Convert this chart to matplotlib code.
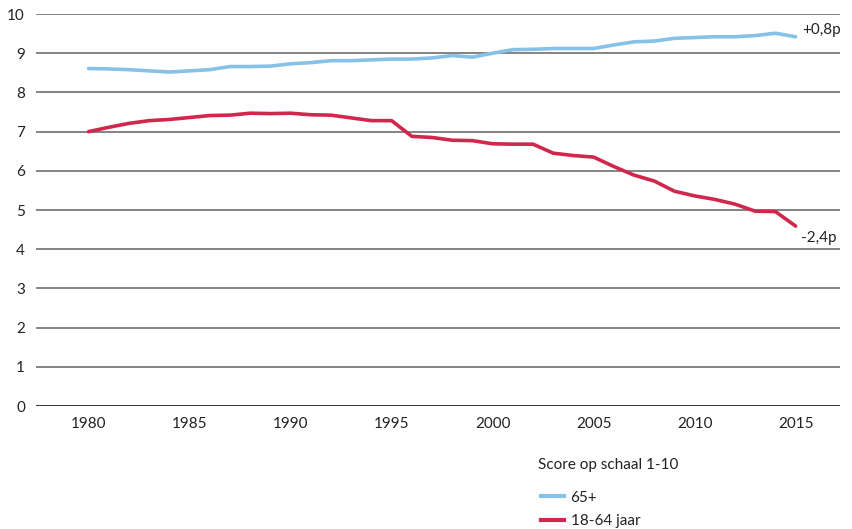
import matplotlib
matplotlib.use("Agg")
import matplotlib.pyplot as plt
from matplotlib.lines import Line2D

# jaren en scores (schaal 1-10)
years = list(range(1980, 2016))
old = [8.61, 8.60, 8.58, 8.55, 8.52, 8.55, 8.58, 8.66, 8.66, 8.67,
       8.73, 8.76, 8.81, 8.81, 8.83, 8.85, 8.85, 8.88, 8.94, 8.90,
       9.00, 9.09, 9.10, 9.12, 9.12, 9.12, 9.21, 9.29, 9.31, 9.38,
       9.40, 9.42, 9.42, 9.45, 9.51, 9.42]
young = [7.00, 7.11, 7.21, 7.28, 7.31, 7.36, 7.41, 7.42, 7.47, 7.46,
         7.47, 7.43, 7.42, 7.35, 7.28, 7.28, 6.88, 6.85, 6.78, 6.77,
         6.69, 6.68, 6.68, 6.45, 6.39, 6.35, 6.11, 5.89, 5.74, 5.48,
         5.36, 5.27, 5.15, 4.97, 4.96, 4.59]
xticks = [1980, 1985, 1990, 1995, 2000, 2005, 2010, 2015]
yticks = list(range(0, 11))

blue = '#86c1e8'
red = '#d0284d'
txt = '#222222'

plt.rcParams['font.family'] = ['Lato', 'DejaVu Sans']

fig = plt.figure(figsize=(8.52, 5.29), dpi=100)
ax = fig.add_axes([0.0423, 0.2325, 0.9437, 0.741])

for y in yticks:
    ax.axhline(y, color='#111111' if y == 0 else '#6e6e6e', lw=1.2, zorder=1)

ax.plot(years, old, color=blue, lw=2.6, solid_capstyle='round', zorder=3)
ax.plot(years, young, color=red, lw=2.6, solid_capstyle='round', zorder=3)

ax.text(2015.35, old[-1] + 0.17, '+0,8p', fontsize=11, color=txt, ha='left', va='center')
ax.text(2015.25, young[-1] - 0.13, '-2,4p', fontsize=11, color=txt, ha='left', va='top')

ax.set_xlim(1977.4, 2017.2)
ax.set_ylim(0, 10)
ax.set_xticks(xticks)
ax.set_yticks(yticks)
ax.tick_params(length=0, labelsize=11, colors=txt)
ax.tick_params(axis='x', pad=8)
ax.tick_params(axis='y', pad=8)
for s in ax.spines.values():
    s.set_visible(False)

# legenda onder de grafiek
fig.text(538 / 852, 1 - 465 / 529, 'Score op schaal 1-10', fontsize=11, color=txt, va='center')
handles = [Line2D([], [], color=blue, lw=3), Line2D([], [], color=red, lw=3)]
fig.legend(handles, ['65+', '18-64 jaar'], loc='upper left',
           bbox_to_anchor=(527 / 852, 1 - 477 / 529), frameon=False,
           fontsize=11, handlelength=1.5, handletextpad=0.45, labelspacing=0.6,
           labelcolor=txt)

fig.savefig('out.png', dpi=100)
